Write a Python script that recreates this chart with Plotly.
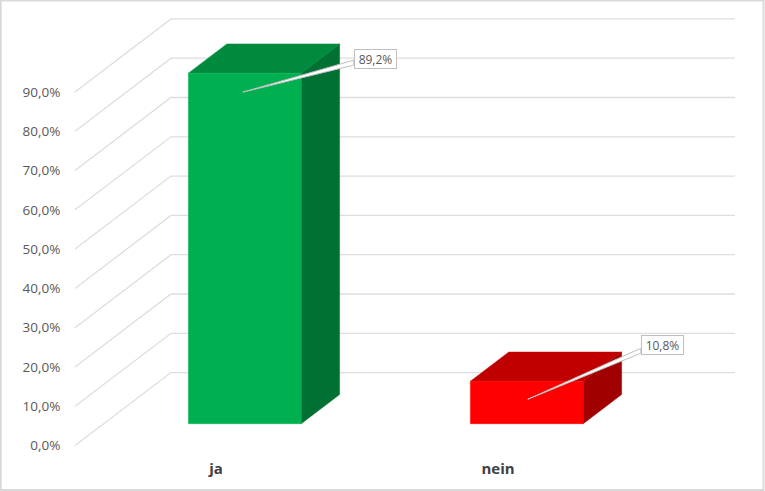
import plotly.graph_objects as go

categories = ['ja', 'nein']
values = [89.2, 10.8]
value_labels = ['89,2%', '10,8%']
tick_values = [0, 10, 20, 30, 40, 50, 60, 70, 80, 90]
tick_labels = ['0,0%', '10,0%', '20,0%', '30,0%', '40,0%', '50,0%', '60,0%', '70,0%', '80,0%', '90,0%']

WIDTH, HEIGHT = 765, 491

# Plot geometry in pixels: origin of the front plane, scale, 3D offset
ORIGIN_X, ORIGIN_Y = 75, 445.6
PX_PER_CATEGORY = 282
PX_PER_PERCENT = 3.93
DEPTH_DX, DEPTH_DY = 96, 73

BAR_WIDTH = 0.4
BAR_DEPTH_FRONT = 0.30
BAR_DEPTH_BACK = 0.70

bar_colors = [
    dict(front='#00B050', top='#008A3E', side='#007033'),
    dict(front='#FF0000', top='#C00000', side='#A00000'),
]
GRID_COLOR = '#DEDEDE'
FRAME_COLOR = '#D9D9D9'
CALLOUT_LINE = '#BFBFBF'

# where the tip of the callout and the box sit, relative to the bar's front top centre (px)
callout_tip = [(-2, 19), (1, 18)]
callout_box = [(109, -24), (114, -46)]
callout_base = [(11, 16), (13, 18)]


def dx(px):
    return px / PX_PER_CATEGORY


def dy(px):
    return px / PX_PER_PERCENT


def project(x, val, depth):
    """Oblique projection of a point (category x, value, depth 0-1) onto the 2D axes."""
    return x + depth * dx(DEPTH_DX), val + depth * dy(DEPTH_DY)


def polygon(points, color):
    xs = [p[0] for p in points] + [points[0][0]]
    ys = [p[1] for p in points] + [points[0][1]]
    return go.Scatter(x=xs, y=ys, mode='lines', fill='toself', fillcolor=color,
                      line=dict(width=0.5, color=color), hoverinfo='skip')


fig = go.Figure()

# Side wall and back wall gridlines
for tick in tick_values:
    corners = [project(0, tick, 0), project(0, tick, 1), project(len(categories), tick, 1)]
    fig.add_trace(go.Scatter(x=[c[0] for c in corners], y=[c[1] for c in corners], mode='lines',
                             line=dict(width=1.3, color=GRID_COLOR), hoverinfo='skip'))

# 3D bars: side, top, front
for i, val in enumerate(values):
    left = i + 0.5 - BAR_WIDTH / 2
    right = i + 0.5 + BAR_WIDTH / 2
    front, back = BAR_DEPTH_FRONT, BAR_DEPTH_BACK
    colors = bar_colors[i]
    fig.add_trace(polygon([project(right, 0, front), project(right, 0, back),
                           project(right, val, back), project(right, val, front)], colors['side']))
    fig.add_trace(polygon([project(left, val, front), project(right, val, front),
                           project(right, val, back), project(left, val, back)], colors['top']))
    fig.add_trace(polygon([project(left, 0, front), project(right, 0, front),
                           project(right, val, front), project(left, val, front)], colors['front']))

# Data labels with wedge shaped callouts
for i, val in enumerate(values):
    cx, cy = project(i + 0.5, val, BAR_DEPTH_FRONT)
    box_x, box_y = cx + dx(callout_box[i][0]), cy - dy(callout_box[i][1])
    base_top, base_bottom = callout_base[i]
    wedge = [(cx + dx(callout_tip[i][0]), cy - dy(callout_tip[i][1])),
             (box_x, box_y - dy(base_top)),
             (box_x, box_y - dy(base_bottom))]
    fig.add_trace(go.Scatter(x=[p[0] for p in wedge] + [wedge[0][0]],
                             y=[p[1] for p in wedge] + [wedge[0][1]],
                             mode='lines', fill='toself', fillcolor='white',
                             line=dict(width=1, color=CALLOUT_LINE), hoverinfo='skip'))
    fig.add_annotation(x=box_x, y=box_y, xref='x', yref='y', xanchor='left', yanchor='top',
                       text=value_labels[i], showarrow=False, width=41, height=18,
                       bgcolor='white', bordercolor=CALLOUT_LINE, borderwidth=1, borderpad=0,
                       font=dict(family='Open Sans', size=12, color='#595959'))

fig.update_layout(
    width=WIDTH,
    height=HEIGHT,
    showlegend=False,
    margin=dict(l=0, r=0, t=0, b=0),
    paper_bgcolor='white',
    plot_bgcolor='white',
    xaxis=dict(
        range=[-dx(ORIGIN_X), dx(WIDTH - ORIGIN_X)],
        domain=[0, 1],
        anchor='free',
        position=(HEIGHT - ORIGIN_Y) / HEIGHT,
        tickmode='array',
        tickvals=[i + 0.5 for i in range(len(categories))],
        ticktext=[f'<b>{c}</b>' for c in categories],
        tickfont=dict(family='Open Sans', size=15, color='#404040'),
        ticks='outside', ticklen=9, tickcolor='rgba(0,0,0,0)',
        showgrid=False, zeroline=False, showline=False,
    ),
    yaxis=dict(
        range=[-dy(HEIGHT - ORIGIN_Y), dy(ORIGIN_Y)],
        domain=[0, 1],
        anchor='free',
        position=ORIGIN_X / WIDTH,
        tickmode='array',
        tickvals=tick_values,
        ticktext=tick_labels,
        tickfont=dict(family='Open Sans', size=13.5, color='#595959'),
        ticks='outside', ticklen=12, tickcolor='rgba(0,0,0,0)',
        showgrid=False, zeroline=False, showline=False,
    ),
)

# Outer chart frame
fig.add_shape(type='rect', xref='paper', yref='paper', x0=0.001, y0=0.002, x1=0.998, y1=0.999,
              line=dict(color=FRAME_COLOR, width=2), fillcolor='rgba(0,0,0,0)')

fig.write_html("out.html", config=dict(displayModeBar=False),
               post_script="document.body.style.margin='0';")
